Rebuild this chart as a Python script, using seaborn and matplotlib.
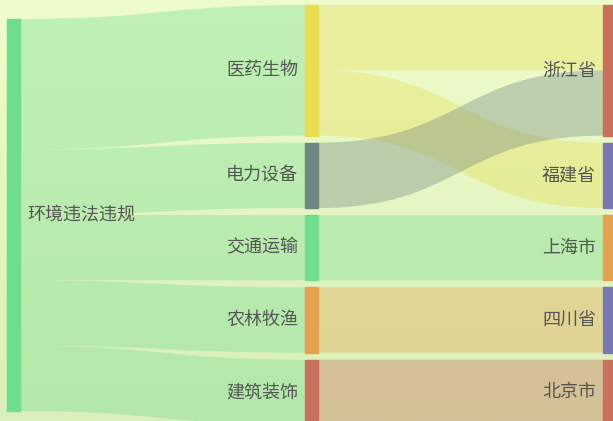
import numpy as np
import matplotlib
matplotlib.use("Agg")
import matplotlib.pyplot as plt
import seaborn as sns
from matplotlib.path import Path
from matplotlib.patches import PathPatch, Rectangle

# 数据
columns = [
    ['环境违法违规'],
    ['医药生物', '电力设备', '交通运输', '农林牧渔', '建筑装饰'],
    ['浙江省', '福建省', '上海市', '四川省', '北京市'],
]
sources = ['环境违法违规'] * 5 + ['医药生物', '医药生物', '电力设备', '交通运输', '农林牧渔', '建筑装饰']
targets = ['医药生物', '电力设备', '交通运输', '农林牧渔', '建筑装饰',
           '浙江省', '福建省', '浙江省', '上海市', '四川省', '北京市']
values = [2, 1, 1, 1, 1, 1, 1, 1, 1, 1, 1]

node_colors = {
    '环境违法违规': '#6edd8e',
    '医药生物': '#e8dc50',
    '电力设备': '#6e8580',
    '交通运输': '#70dd8e',
    '农林牧渔': '#e4a24e',
    '建筑装饰': '#c8705a',
    '浙江省': '#c8705a',
    '福建省': '#7878b2',
    '上海市': '#e4a24e',
    '四川省': '#7878b2',
    '北京市': '#c8705a',
}

sns.set_theme(style="white")
plt.rcParams['font.family'] = ['Noto Sans CJK SC', 'DejaVu Sans']

W, H = 613, 421
fig = plt.figure(figsize=(W / 100, H / 100), dpi=100)
ax = fig.add_axes([0, 0, 1, 1])
ax.set_xlim(0, W)
ax.set_ylim(H, 0)
ax.axis('off')

# 背景渐变
grad = np.linspace(0, 1, 256).reshape(-1, 1)
top_c = np.array([0xef, 0xfd, 0xcb]) / 255
bot_c = np.array([0xda, 0xef, 0xb9]) / 255
img = top_c[None, None, :] * (1 - grad[:, :, None]) + bot_c[None, None, :] * grad[:, :, None]
ax.imshow(img, extent=[0, W, H, 0], aspect='auto', zorder=0)

# 布局
left, right_edge, top, bottom = 7, 616, 5, 425
node_w, gap = 13, 7
n_in = {}
n_out = {}
for s, t, v in zip(sources, targets, values):
    n_out[s] = n_out.get(s, 0) + v
    n_in[t] = n_in.get(t, 0) + v
node_val = {n: max(n_in.get(n, 0), n_out.get(n, 0)) for col in columns for n in col}
max_n = max(len(c) for c in columns)
max_tot = max(sum(node_val[n] for n in c) for c in columns)
ky = (bottom - top - (max_n - 1) * gap) / max_tot
col_step = (right_edge - node_w - left) / (len(columns) - 1)

pos = {}
for i, col in enumerate(columns):
    x = left + i * col_step
    tot = sum(node_val[n] for n in col) * ky + (len(col) - 1) * gap
    y = top + (bottom - top - tot) / 2
    for n in col:
        h = node_val[n] * ky
        pos[n] = (x, y, h, i)
        y += h + gap

# 连线
out_off = {n: 0.0 for n in pos}
in_off = {n: 0.0 for n in pos}
for s, t, v in zip(sources, targets, values):
    sx, sy, _, _ = pos[s]
    tx, ty, _, _ = pos[t]
    w = v * ky
    x0 = sx + node_w
    x1 = tx
    y0a = sy + out_off[s]
    y1a = ty + in_off[t]
    out_off[s] += w
    in_off[t] += w
    xm = (x0 + x1) / 2
    verts = [(x0, y0a), (xm, y0a), (xm, y1a), (x1, y1a),
             (x1, y1a + w), (xm, y1a + w), (xm, y0a + w), (x0, y0a + w), (x0, y0a)]
    codes = [Path.MOVETO, Path.CURVE4, Path.CURVE4, Path.CURVE4,
             Path.LINETO, Path.CURVE4, Path.CURVE4, Path.CURVE4, Path.CLOSEPOLY]
    ax.add_patch(PathPatch(Path(verts, codes), facecolor=node_colors[s],
                           edgecolor='none', alpha=0.36, zorder=2))

# 节点与标签
for n, (x, y, h, i) in pos.items():
    c = node_colors[n]
    ax.add_patch(Rectangle((x, y), node_w, h, facecolor=c, edgecolor=c,
                           linewidth=1, zorder=3))
    if i == 0:
        ax.text(x + node_w + 7, y + h / 2, n, ha='left', va='center',
                fontsize=13, color='#555555', zorder=4)
    else:
        ax.text(x - 7, y + h / 2, n, ha='right', va='center',
                fontsize=13, color='#555555', zorder=4)

fig.savefig('out.png', dpi=100)
